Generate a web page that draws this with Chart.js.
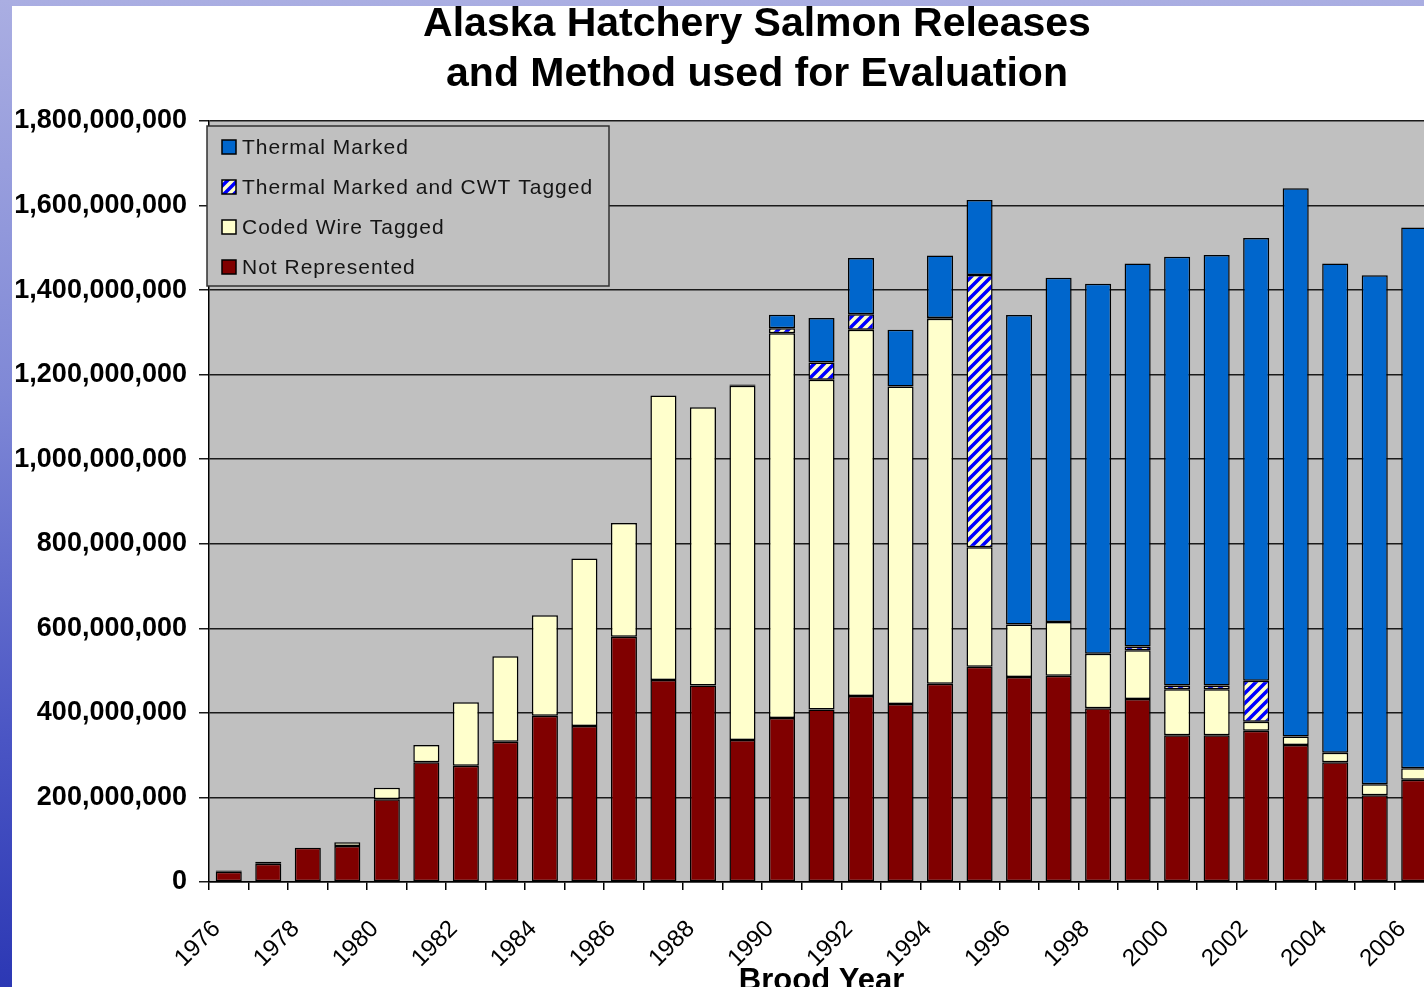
<!DOCTYPE html>
<html>
<head>
<meta charset="utf-8">
<title>Alaska Hatchery Salmon Releases</title>
<script src="https://cdn.jsdelivr.net/npm/chart.js"></script>
<style>
  html, body {
    margin: 0;
    padding: 0;
    width: 1424px;
    height: 987px;
    overflow: hidden;
    background: linear-gradient(to bottom, #aaaee2 0%, #7f88d6 40%, #4a55c4 75%, #2c38b4 100%);
    position: relative;
  }
  #chart {
    position: absolute;
    left: 12px;
    top: 6px;
    background: #fff;
  }
  #title {
    position: absolute;
    left: 0;
    top: -3px;
    width: 1514px;
    text-align: center;
    font: bold 41px "Liberation Sans", Arial, sans-serif;
    line-height: 50px;
    color: #000;
  }
</style>
</head>
<body>
<canvas id="chart" width="1440" height="1000"></canvas>
<div id="title">Alaska Hatchery Salmon Releases<br>and Method used for Evaluation</div>
<script>
// Brood years 1976 - 2006
const years = ["1976", "1977", "1978", "1979", "1980", "1981", "1982", "1983", "1984", "1985",
               "1986", "1987", "1988", "1989", "1990", "1991", "1992", "1993", "1994", "1995",
               "1996", "1997", "1998", "1999", "2000", "2001", "2002", "2003", "2004", "2005", "2006"];

// releases in millions of fish
const notRepresented = [24, 43, 81, 85, 196, 283, 275, 332, 393, 369,
                        580, 478, 465, 336, 388, 408, 440, 421, 469, 509,
                        485, 488, 411, 433, 347, 347, 358, 324, 283, 205, 242];
const codedWireTagged = [3, 5, 0, 9, 27, 41, 150, 202, 238, 396,
                         269, 673, 658, 838, 910, 780, 866, 751, 863, 283,
                         124, 127, 129, 115, 109, 109, 21, 20, 23, 26, 27];
const thermalAndCwt = [0, 0, 0, 0, 0, 0, 0, 0, 0, 0,
                       0, 0, 0, 0, 12, 41, 37, 0, 2, 644,
                       0, 0, 0, 9, 9, 9, 97, 0, 0, 0, 0];
const thermalMarked = [0, 0, 0, 0, 0, 0, 0, 0, 0, 0,
                       0, 0, 0, 3, 32, 105, 133, 134, 148, 177,
                       732, 814, 875, 906, 1014, 1018, 1047, 1297, 1157, 1204, 1279];

const yTicks = [0, 200e6, 400e6, 600e6, 800e6, 1000e6, 1200e6, 1400e6, 1600e6, 1800e6];

const M = 1e6;
const toFish = arr => arr.map(v => v * M);

// blue diagonal hatch on pale yellow
function hatchPattern() {
  const c = document.createElement("canvas");
  c.width = 10;
  c.height = 10;
  const g = c.getContext("2d");
  g.fillStyle = "#ffffcc";
  g.fillRect(0, 0, 10, 10);
  g.strokeStyle = "#0000ff";
  g.lineWidth = 3.5;
  g.beginPath();
  g.moveTo(-2, 12); g.lineTo(12, -2);
  g.moveTo(-7, 7); g.lineTo(7, -7);
  g.moveTo(3, 17); g.lineTo(17, 3);
  g.stroke();
  return g.createPattern(c, "repeat");
}

const ctx = document.getElementById("chart");
const hatch = hatchPattern();

// gray plot background
const plotBackground = {
  id: "plotBackground",
  beforeDraw(chart) {
    const a = chart.chartArea;
    const c = chart.ctx;
    c.save();
    c.fillStyle = "#c0c0c0";
    c.fillRect(a.left, a.top, a.right - a.left, a.bottom - a.top);
    c.restore();
  }
};

// boxed legend in the top-left corner of the plot
const boxedLegend = {
  id: "boxedLegend",
  afterDraw(chart) {
    const a = chart.chartArea;
    const c = chart.ctx;
    const x = a.left - 2, y = a.top + 5, w = 402, h = 160;
    c.save();
    c.fillStyle = "#c0c0c0";
    c.fillRect(x, y, w, h);
    c.strokeStyle = "#303030";
    c.lineWidth = 1.5;
    c.strokeRect(x, y, w, h);
    const items = chart.data.datasets.slice().reverse();
    c.font = '21px "Liberation Sans", Arial, sans-serif';
    c.letterSpacing = "1px";
    c.textBaseline = "middle";
    items.forEach((ds, i) => {
      const cy = y + 21 + i * 40;
      c.fillStyle = ds.backgroundColor;
      c.fillRect(x + 15, cy - 7, 14, 14);
      c.strokeStyle = "#000";
      c.lineWidth = 1.5;
      c.strokeRect(x + 15, cy - 7, 14, 14);
      c.fillStyle = "#151515";
      c.fillText(ds.label, x + 35, cy + 1);
    });
    c.restore();
  }
};

const barStyle = {
  borderColor: "#000",
  borderWidth: 1.5,
  borderSkipped: false,
  categoryPercentage: 1.0,
  barPercentage: 0.66
};

new Chart(ctx, {
  type: "bar",
  data: {
    labels: years,
    datasets: [
      Object.assign({ label: "Not Represented", data: toFish(notRepresented), backgroundColor: "#800000" }, barStyle),
      Object.assign({ label: "Coded Wire Tagged", data: toFish(codedWireTagged), backgroundColor: "#ffffcc" }, barStyle),
      Object.assign({ label: "Thermal Marked and CWT Tagged", data: toFish(thermalAndCwt), backgroundColor: hatch }, barStyle),
      Object.assign({ label: "Thermal Marked", data: toFish(thermalMarked), backgroundColor: "#0066cc" }, barStyle)
    ]
  },
  options: {
    responsive: false,
    animation: false,
    layout: {
      padding: { left: 0, top: 115, right: 18, bottom: 0 }
    },
    plugins: {
      legend: { display: false },
      title: { display: false },
      tooltip: { enabled: false }
    },
    scales: {
      x: {
        stacked: true,
        afterFit(scale) {
          scale.height = 124;
          scale.paddingLeft = 0;
          scale.paddingRight = 0;
        },
        grid: {
          display: true,
          drawOnChartArea: false,
          tickLength: 8,
          color: "#000",
          lineWidth: 1.5
        },
        border: { color: "#000", width: 1.5 },
        ticks: {
          autoSkip: false,
          minRotation: 45,
          maxRotation: 45,
          padding: 25,
          labelOffset: -12,
          color: "#000",
          font: { family: '"Liberation Sans", Arial, sans-serif', size: 24 },
          callback(value, index) { return index % 2 === 0 ? years[index] : ""; }
        },
        title: {
          display: true,
          text: "Brood Year",
          color: "#000",
          padding: { top: 0, bottom: 6 },
          font: { family: '"Liberation Sans", Arial, sans-serif', size: 31, weight: "bold" }
        }
      },
      y: {
        stacked: true,
        min: 0,
        max: 1800e6,
        afterFit(scale) { scale.width = 197; },
        afterBuildTicks(scale) { scale.ticks = yTicks.map(v => ({ value: v })); },
        grid: {
          color: "#1a1a1a",
          lineWidth: 1.5,
          tickLength: 10
        },
        border: { color: "#000", width: 1.5 },
        ticks: {
          padding: 12,
          color: "#000",
          font: { family: '"Liberation Sans", Arial, sans-serif', size: 27, weight: "bold" },
          callback(value) { return value.toLocaleString("en-US"); }
        }
      }
    }
  },
  plugins: [plotBackground, boxedLegend]
});
</script>
</body>
</html>
